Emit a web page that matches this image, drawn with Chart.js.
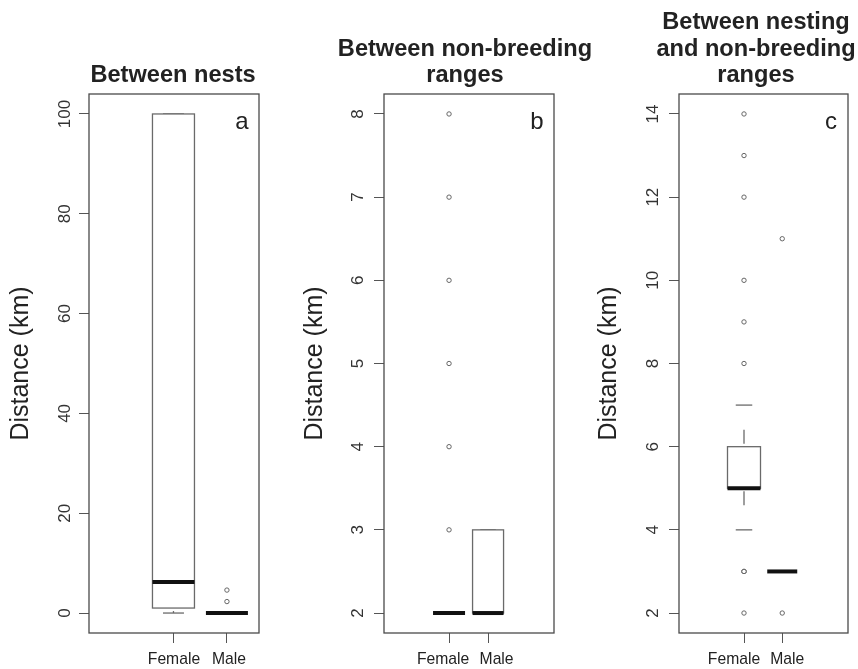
<!DOCTYPE html>
<html lang="en">
<head>
  <meta charset="UTF-8">
  <title>Distances (km)</title>
  <script src="https://cdn.jsdelivr.net/npm/chart.js"></script>
  <style>
    body { margin: 0; background: #fff; }
    #panels { position: relative; width: 858px; height: 669px; }
    #panels canvas { position: absolute; top: 0; left: 0; }
  </style>
</head>
<body>
  <div id="panels">
    <canvas id="panelA" width="858" height="669"></canvas>
    <canvas id="panelB" width="858" height="669"></canvas>
    <canvas id="panelC" width="858" height="669"></canvas>
  </div>

  <script>
    // groups on the x axis
    const groups = ["Female", "Male"];

    // box stats per group: [lower whisker, Q1, median, Q3, upper whisker]
    const nestsStats = [[0, 1, 6.2, 100, 100], [0, 0, 0, 0, 0]];
    const nestsOutliers = [[], [2.3, 4.6]];
    const nestsTicks = [0, 20, 40, 60, 80, 100];

    const nonBreedingStats = [[2, 2, 2, 2, 2], [2, 2, 2, 3, 3]];
    const nonBreedingOutliers = [[3, 4, 5, 6, 7, 8], []];
    const nonBreedingTicks = [2, 3, 4, 5, 6, 7, 8];

    const nestToRangeStats = [[4, 5, 5, 6, 7], [3, 3, 3, 3, 3]];
    const nestToRangeOutliers = [[2, 3, 3, 3, 8, 9, 10, 12, 13, 14], [2, 11]];
    const nestToRangeTicks = [2, 4, 6, 8, 10, 12, 14];

    const FONT = '"Liberation Sans", Arial, Helvetica, sans-serif';
    Chart.defaults.font.family = FONT;

    function makePanel(id, p) {
      // y range padded by 4% like base R
      const all = p.stats.flat().concat(p.outliers.flat());
      const lo = Math.min(...all), hi = Math.max(...all);
      const pad = (hi - lo) * 0.04;

      const points = [];
      p.outliers.forEach((vals, i) => vals.forEach(v => points.push({ x: i + 1, y: v })));

      const boxes = {
        id: "boxes",
        beforeDatasetsDraw(chart) {
          const { ctx, scales: { x, y } } = chart;
          p.stats.forEach((s, i) => {
            const [wLo, q1, med, q3, wHi] = s;
            const cx = x.getPixelForValue(i + 1);
            const half = p.boxWidth[i] / 2;
            const yq1 = y.getPixelForValue(q1), yq3 = y.getPixelForValue(q3);
            ctx.save();
            ctx.strokeStyle = "#6a6a6a";
            ctx.lineWidth = 1.3;
            // dashed whiskers, going out from the box
            ctx.setLineDash([14, 40]);
            ctx.lineDashOffset = 51;
            [[yq3, wHi], [yq1, wLo]].forEach(([from, end]) => {
              const ye = y.getPixelForValue(end);
              if (Math.abs(ye - from) < 1) return;
              ctx.beginPath();
              ctx.moveTo(cx, from);
              ctx.lineTo(cx, ye);
              ctx.stroke();
            });
            ctx.setLineDash([]);
            // staples
            [wLo, wHi].forEach(v => {
              const yy = y.getPixelForValue(v);
              ctx.beginPath();
              ctx.moveTo(cx - half / 2, yy);
              ctx.lineTo(cx + half / 2, yy);
              ctx.stroke();
            });
            // box
            if (q3 > q1) {
              ctx.fillStyle = "#fff";
              ctx.fillRect(cx - half, yq3, half * 2, yq1 - yq3);
              ctx.strokeRect(cx - half, yq3, half * 2, yq1 - yq3);
            }
            // median
            const ym = y.getPixelForValue(med);
            ctx.strokeStyle = "#111";
            ctx.lineWidth = 4;
            ctx.beginPath();
            ctx.moveTo(cx - half, ym);
            ctx.lineTo(cx + half, ym);
            ctx.stroke();
            ctx.restore();
          });
        },
        afterDraw(chart) {
          const { ctx, chartArea: a, scales: { x } } = chart;
          ctx.save();
          ctx.strokeStyle = "#4a4a4a";
          ctx.lineWidth = 1.3;
          ctx.strokeRect(a.left, a.top, a.right - a.left, a.bottom - a.top);
          ctx.fillStyle = "#222";
          ctx.textAlign = "center";
          ctx.textBaseline = "alphabetic";
          // group names under the ticks
          ctx.font = "15.7px " + FONT;
          groups.forEach((g, i) => {
            ctx.fillText(g, x.getPixelForValue(i + 1) + p.labelShift[i], a.bottom + 31);
          });
          // panel letter
          ctx.font = "24px " + FONT;
          ctx.fillText(p.letter, a.right - 17, a.top + 35);
          // title
          ctx.font = "bold 23.6px " + FONT;
          const n = p.title.length;
          p.title.forEach((line, i) => {
            ctx.fillText(line, p.titleX, 82 - (n - 1 - i) * 26.5);
          });
          ctx.restore();
        }
      };

      return new Chart(document.getElementById(id), {
        type: "scatter",
        data: {
          datasets: [{
            data: points,
            pointRadius: 2.2,
            pointBorderWidth: 1,
            pointBorderColor: "#666",
            pointBackgroundColor: "#fff"
          }]
        },
        options: {
          responsive: false,
          animation: false,
          events: [],
          layout: { padding: { top: 94, right: 858 - p.right, left: p.left, bottom: 0 } },
          plugins: { legend: { display: false }, tooltip: { enabled: false } },
          scales: {
            x: {
              type: "linear",
              min: p.xMin,
              max: p.xMax,
              afterBuildTicks: s => { s.ticks = groups.map((g, i) => ({ value: i + 1 })); },
              afterFit: s => { s.height = 36; },
              border: { display: false },
              grid: { drawOnChartArea: false, tickLength: 10, color: "#555" },
              ticks: { display: false }
            },
            y: {
              type: "linear",
              min: lo - pad,
              max: hi + pad,
              afterBuildTicks: s => { s.ticks = p.ticks.map(v => ({ value: v })); },
              afterFit: s => { s.width = p.axisWidth; },
              border: { display: false },
              grid: { drawOnChartArea: false, tickLength: 10, color: "#555" },
              ticks: {
                autoSkip: false, minRotation: 90, maxRotation: 90, crossAlign: "center",
                padding: p.tickPad, color: "#333", font: { size: 17 }
              },
              title: {
                display: true, text: "Distance (km)", color: "#222",
                font: { size: 25 }, padding: { top: p.titlePad, bottom: 0 }
              }
            }
          }
        },
        plugins: [boxes]
      });
    }

    makePanel("panelA", {
      stats: nestsStats, outliers: nestsOutliers, ticks: nestsTicks,
      title: ["Between nests"], letter: "a", titleX: 173,
      left: 0, right: 259, axisWidth: 89,
      xMin: -0.58, xMax: 2.6, boxWidth: [42, 42], labelShift: [0.5, 2],
      tickPad: 0, titlePad: 6
    });

    makePanel("panelB", {
      stats: nonBreedingStats, outliers: nonBreedingOutliers, ticks: nonBreedingTicks,
      title: ["Between non-breeding", "ranges"], letter: "b", titleX: 465,
      left: 290, right: 554, axisWidth: 94,
      xMin: -0.667, xMax: 3.69, boxWidth: [32, 31], labelShift: [-6, 8.5],
      tickPad: 11, titlePad: 10
    });

    makePanel("panelC", {
      stats: nestToRangeStats, outliers: nestToRangeOutliers, ticks: nestToRangeTicks,
      title: ["Between nesting", "and non-breeding", "ranges"], letter: "c", titleX: 756,
      left: 580, right: 848, axisWidth: 99,
      xMin: -0.7, xMax: 3.72, boxWidth: [33, 30], labelShift: [-10, 5],
      tickPad: 6.5, titlePad: 14
    });
  </script>
</body>
</html>
